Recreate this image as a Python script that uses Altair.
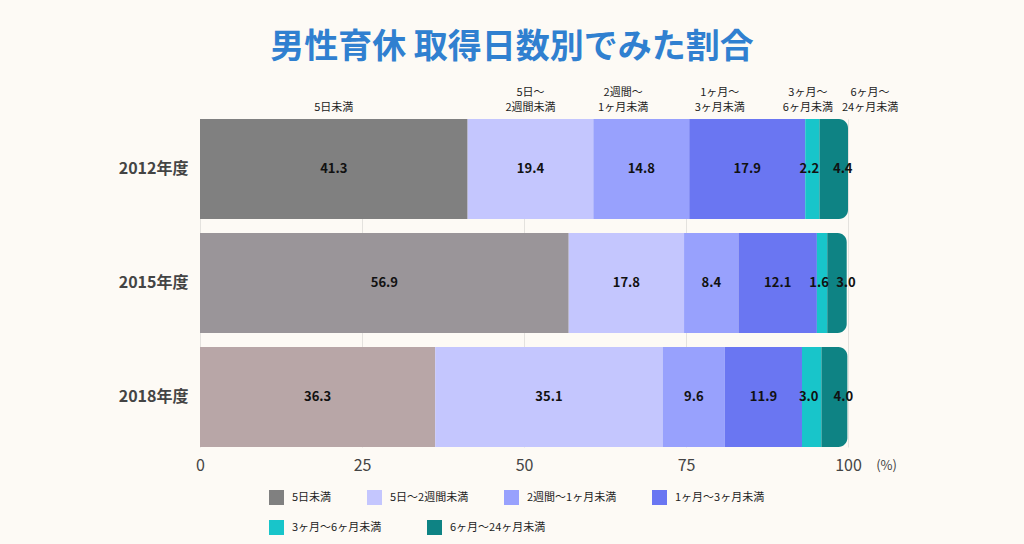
import altair as alt
import pandas as pd

# ---- data ----
years = ["2012年度", "2015年度", "2018年度"]
categories = ["5日未満", "5日～2週間未満", "2週間～1ヶ月未満", "1ヶ月～3ヶ月未満",
              "3ヶ月～6ヶ月未満", "6ヶ月～24ヶ月未満"]
header_line1 = ["", "5日～", "2週間～", "1ヶ月～", "3ヶ月～", "6ヶ月～"]
header_line2 = ["5日未満", "2週間未満", "1ヶ月未満", "3ヶ月未満", "6ヶ月未満", "24ヶ月未満"]
header_anchor = [20.65, 51.0, 65.3, 80.2, 93.8, 103.4]  # label anchors in % units
values_2012 = [41.3, 19.4, 14.8, 17.9, 2.2, 4.4]
values_2015 = [56.9, 17.8, 8.4, 12.1, 1.6, 3.0]
values_2018 = [36.3, 35.1, 9.6, 11.9, 3.0, 4.0]

first_colors = ["#808080", "#9a9599", "#b8a6a7"]
cat_colors = ["#808080", "#c4c6fe", "#98a1fd", "#6a76f2", "#18c5ca", "#0e8384"]

rows = []
for y, vals in zip(years, [values_2012, values_2015, values_2018]):
    for i, (c, v) in enumerate(zip(categories, vals)):
        rows.append({"year": y, "category": c, "order": i, "value": v})
df = pd.DataFrame(rows)
hdr = pd.DataFrame({"label": [[a, b] for a, b in zip(header_line1, header_line2)],
                    "pos": header_anchor})

FONT = "Noto Sans CJK JP"

base = alt.Chart(df).transform_stack(
    stack="value", groupby=["year"], as_=["x0", "x1"], sort=[alt.SortField("order")]
)

yenc = alt.Y("year:N", sort=years, title=None,
             scale=alt.Scale(paddingInner=0.1228, paddingOuter=0),
             axis=alt.Axis(labelFontSize=16, labelFontWeight="bold", labelColor="#444444",
                           labelPadding=12, ticks=False, domain=False, grid=False))
xenc = alt.X("x0:Q", scale=alt.Scale(domain=[0, 100], nice=False),
             axis=alt.Axis(values=[0, 25, 50, 75, 100], labelFontSize=16, labelColor="#444444",
                           labelPadding=10, labelFlush=False, ticks=False, domain=False,
                           grid=True, gridColor="#e4e2de", gridWidth=1,
                           title="(%)", titleFontSize=13, titleFontWeight="normal",
                           titleColor="#444444", titleX=686, titleY=18,
                           titleAlign="center", titleBaseline="middle"))

legend_common = dict(title=None, orient="none", direction="horizontal", columns=4,
                     symbolType="square", symbolSize=225,
                     symbolStrokeWidth=0, symbolOpacity=1,
                     labelFontSize=11, labelColor="#222222", labelOffset=8)

first = base.transform_filter("datum.order == 0").mark_bar().encode(
    y=yenc, x=xenc, x2="x1:Q",
    color=alt.Color("year:N", scale=alt.Scale(domain=years, range=first_colors), legend=None),
)

middle = base.transform_filter("datum.order > 0 && datum.order < 4").mark_bar().encode(
    y=yenc, x=xenc, x2="x1:Q",
    color=alt.Color("category:N", sort=categories[:4],
                    scale=alt.Scale(domain=categories[:4], range=cat_colors[:4]),
                    legend=alt.Legend(legendX=69, legendY=371, columnPadding=35,
                                      **legend_common)),
)

fifth = base.transform_filter("datum.order == 4").mark_bar().encode(
    y=yenc, x=xenc, x2="x1:Q",
    color=alt.Color("category:N", sort=categories[4:],
                    scale=alt.Scale(domain=categories[4:], range=cat_colors[4:]),
                    legend=alt.Legend(legendX=69, legendY=401, columnPadding=45,
                                      **legend_common)),
)

last = base.transform_filter("datum.order == 5").mark_bar(
    cornerRadiusTopRight=9, cornerRadiusBottomRight=9, color=cat_colors[5]
).encode(y=yenc, x=xenc, x2="x1:Q")

lab_base = base.transform_calculate(mid="(datum.x0 + datum.x1) / 2")
lab_enc = dict(y=alt.Y("year:N", sort=years), x=alt.X("mid:Q"),
               text=alt.Text("value:Q", format=".1f"))
lab_style = dict(fontSize=13, fontWeight="bold", color="#111111")

labels_main = lab_base.transform_filter("datum.order < 4").mark_text(**lab_style).encode(**lab_enc)
labels_5 = lab_base.transform_filter("datum.order == 4").mark_text(dx=-3, **lab_style).encode(**lab_enc)
labels_6 = lab_base.transform_filter("datum.order == 5").mark_text(dx=9, **lab_style).encode(**lab_enc)

header = alt.Chart(hdr).mark_text(
    fontSize=11, color="#222222", baseline="middle", lineHeight=15
).encode(
    x=alt.X("pos:Q"),
    y=alt.value(-26),
    text="label",
)

chart = alt.layer(first, middle, fifth, last, labels_main, labels_5, labels_6, header).resolve_scale(
    color="independent"
).properties(
    width=648, height=328,
    autosize=alt.AutoSizeParams(type="none"),
    padding={"left": 200, "top": 119, "right": 176, "bottom": 97},
    background="#fdfaf5",
    title=alt.TitleParams("男性育休 取得日数別でみた割合", fontSize=34, fontWeight="bold",
                          color="#3080d0", anchor="middle", dx=-12, offset=22),
).configure(font=FONT).configure_view(stroke=None)

chart.save("out.html", embed_options={"renderer": "svg", "actions": False})
